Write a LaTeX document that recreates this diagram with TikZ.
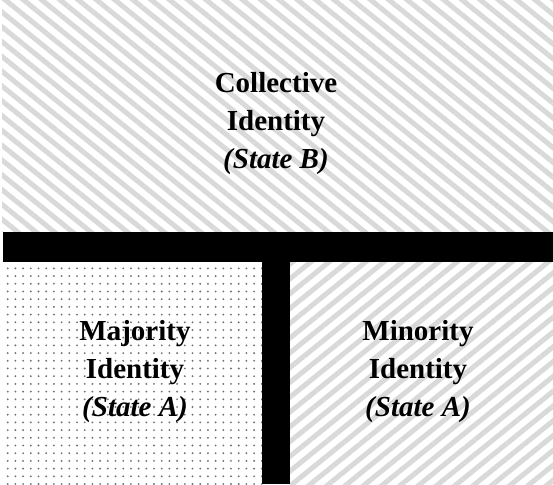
\documentclass[tikz,border=0pt]{standalone}
\usepackage{fontspec}
\setmainfont{Liberation Serif}
\usetikzlibrary{patterns.meta}

\tikzset{
  hatchne/.style={pattern={Lines[angle=39,distance=11.5pt,line width=5pt]}, pattern color=gray!30},
  hatchnw/.style={pattern={Lines[angle=-39,distance=11.5pt,line width=5pt]}, pattern color=gray!30},
  dotfill/.style={pattern={Dots[distance=7.7pt,radius=1.05pt]}, pattern color=black!55},
  idlabel/.style={align=center, font=\fontsize{29}{38}\selectfont\bfseries}
}

\begin{document}
\begin{tikzpicture}[x=1pt,y=1pt]
\useasboundingbox (0,0) rectangle (553,484);
\fill[white] (0,0) rectangle (553,484);
\fill[hatchnw] (2,252) rectangle (553,484);
\fill[dotfill] (2,0) rectangle (262,222);
\fill[hatchne] (290,0) rectangle (553,222);
\fill[black] (3,222) rectangle (553,252);
\fill[black] (262,0) rectangle (290,222);
\node[idlabel] (coll) at (276,360) {Collective\\Identity\\\textit{(State B)}};
\node[idlabel] (maj) at (135,112) {Majority\\Identity\\\textit{(State A)}};
\node[idlabel] (min) at (418,112) {Minority\\Identity\\\textit{(State A)}};
\end{tikzpicture}
\end{document}
